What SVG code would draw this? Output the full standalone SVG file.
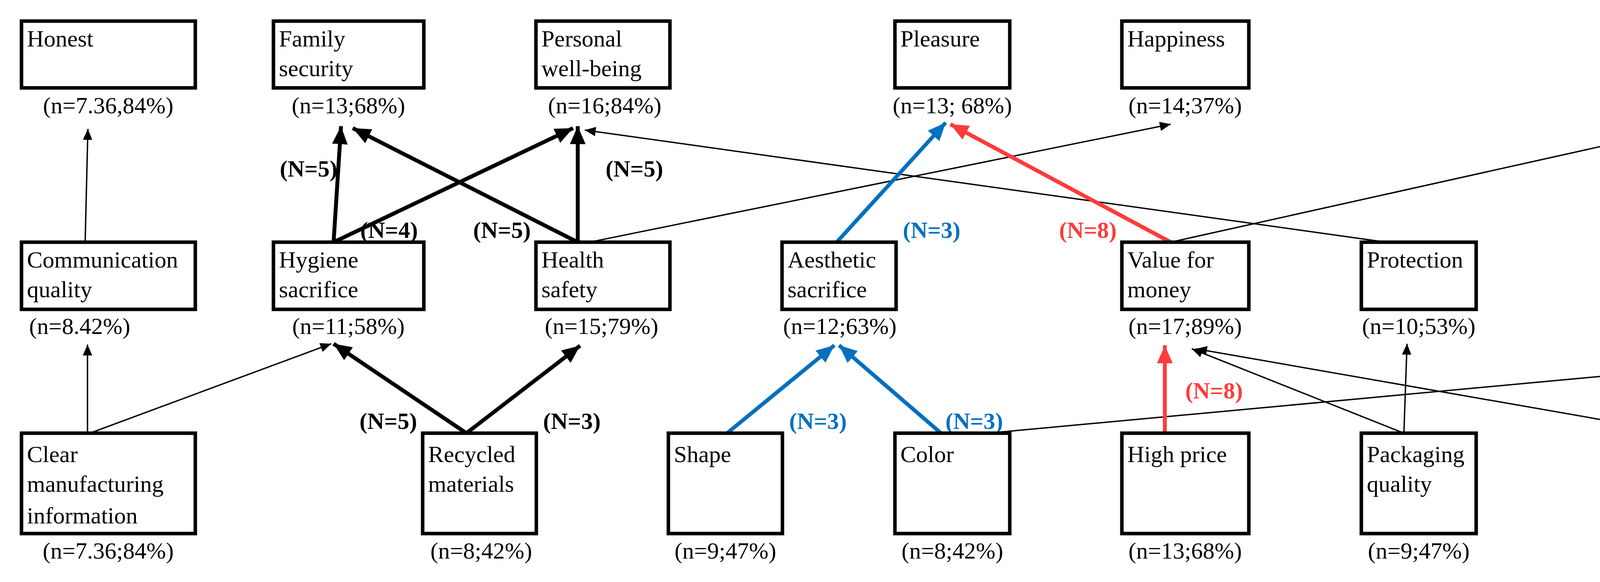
<svg xmlns="http://www.w3.org/2000/svg" width="5747" height="1490" viewBox="0 0 5747 1490">
<style>
rect.n{fill:#fff;stroke:#000;stroke-width:9}
text{font-family:"Liberation Serif","Times New Roman",serif;font-size:60px;fill:#000}
text.c{text-anchor:middle}
text.b{font-weight:bold;text-anchor:middle}
.thin{stroke:#000;stroke-width:3.5;fill:none;marker-end:url(#mt)}
.thk{stroke:#000;stroke-width:10;fill:none;marker-end:url(#mk)}
.blu{stroke:#0070C0;stroke-width:10;fill:none;marker-end:url(#mb)}
.red{stroke:#FF3B3B;stroke-width:10;fill:none;marker-end:url(#mr)}
.grn{stroke:#00B050;stroke-width:10;fill:none;marker-end:url(#mg)}
</style>
<defs>
<marker id="mt" markerUnits="userSpaceOnUse" markerWidth="30" markerHeight="24" refX="28" refY="12" orient="auto"><path d="M0,0 L28,12 L0,24 Z" fill="#000"/></marker>
<marker id="mk" markerUnits="userSpaceOnUse" markerWidth="48" markerHeight="40" refX="46" refY="20" orient="auto"><path d="M0,0 L46,20 L0,40 Z" fill="#000"/></marker>
<marker id="mb" markerUnits="userSpaceOnUse" markerWidth="48" markerHeight="40" refX="46" refY="20" orient="auto"><path d="M0,0 L46,20 L0,40 Z" fill="#0070C0"/></marker>
<marker id="mr" markerUnits="userSpaceOnUse" markerWidth="48" markerHeight="40" refX="46" refY="20" orient="auto"><path d="M0,0 L46,20 L0,40 Z" fill="#FF3B3B"/></marker>
<marker id="mg" markerUnits="userSpaceOnUse" markerWidth="48" markerHeight="40" refX="46" refY="20" orient="auto"><path d="M0,0 L46,20 L0,40 Z" fill="#00B050"/></marker>
</defs>
<rect width="5747" height="1490" fill="#fff"/>
<g id="connectors">
<line class="thin" x1="218" y1="620" x2="225" y2="330"/>
<line class="thin" x1="224" y1="1109" x2="224" y2="882"/>
<line class="thin" x1="230" y1="1109" x2="848" y2="880"/>
<line class="thin" x1="1509" y1="620" x2="2997" y2="318"/>
<line class="thin" x1="3548" y1="620" x2="1497" y2="333"/>
<line class="thin" x1="2997" y1="620" x2="4309" y2="328"/>
<line class="thin" x1="4307" y1="620" x2="4311" y2="330"/>
<line class="thin" x1="3594" y1="1109" x2="3602" y2="880"/>
<line class="thin" x1="3594" y1="1109" x2="3051" y2="893"/>
<line class="thin" x1="4297" y1="1109" x2="3062" y2="893"/>
<line class="thin" x1="4297" y1="1109" x2="4297" y2="882"/>
<line class="thin" x1="2530" y1="1109" x2="4912" y2="888"/>
<line class="thin" x1="4936" y1="1109" x2="4936" y2="882"/>
<line class="thk" x1="854" y1="620" x2="873" y2="323"/>
<line class="thk" x1="854" y1="620" x2="1467" y2="328"/>
<line class="thk" x1="1479" y1="620" x2="903" y2="328"/>
<line class="thk" x1="1479" y1="620" x2="1479" y2="323"/>
<line class="thk" x1="1194" y1="1109" x2="854" y2="880"/>
<line class="thk" x1="1194" y1="1109" x2="1485" y2="885"/>
<line class="blu" x1="2142" y1="620" x2="2421" y2="314"/>
<line class="blu" x1="1854" y1="1115" x2="2136" y2="884"/>
<line class="blu" x1="2409" y1="1109" x2="2148" y2="884"/>
<line class="red" x1="2997" y1="620" x2="2433" y2="318"/>
<line class="red" x1="2982" y1="1109" x2="2982" y2="884"/>
<line class="grn" x1="4926" y1="620" x2="4926" y2="333"/>
<line class="grn" x1="5557" y1="612" x2="4936" y2="333"/>
<line class="grn" x1="5557" y1="1109" x2="4949" y2="880"/>
<line class="grn" x1="5557" y1="1109" x2="5554" y2="885"/>
<text class="b" x="790" y="452">(N=5)</text>
<text class="b" x="996" y="609">(N=4)</text>
<text class="b" x="1285" y="609">(N=5)</text>
<text class="b" x="1624" y="452">(N=5)</text>
<text class="b" x="994" y="1098">(N=5)</text>
<text class="b" x="1464" y="1098">(N=3)</text>
<text class="b" x="2385" y="609" style="fill:#0070C0">(N=3)</text>
<text class="b" x="2094" y="1098" style="fill:#0070C0">(N=3)</text>
<text class="b" x="2494" y="1098" style="fill:#0070C0">(N=3)</text>
<text class="b" x="2785" y="609" style="fill:#FF3B3B">(N=8)</text>
<text class="b" x="3108" y="1020" style="fill:#FF3B3B">(N=8)</text>
<text class="b" x="4850" y="529" style="fill:#00B050">(N=3)</text>
<text class="b" x="5340" y="452" style="fill:#00B050">(N=3)</text>
<text class="b" x="5340" y="1020" style="fill:#00B050">(N=3)</text>
<text class="b" x="5636" y="1020" style="fill:#00B050">(N=3)</text>
</g>
<g id="honest"><rect class="n" x="55" y="54" width="445" height="171"/><text x="69" y="119">Honest</text><text class="c" x="277" y="290">(n=7.36,84%)</text></g>
<g id="family"><rect class="n" x="700" y="54" width="385" height="171"/><text x="714" y="119">Family</text><text x="714" y="195">security</text><text class="c" x="892" y="290">(n=13;68%)</text></g>
<g id="personal"><rect class="n" x="1372" y="54" width="343" height="171"/><text x="1386" y="119">Personal</text><text x="1386" y="195">well-being</text><text class="c" x="1548" y="290">(n=16;84%)</text></g>
<g id="pleasure"><rect class="n" x="2291" y="54" width="294" height="171"/><text x="2305" y="119">Pleasure</text><text class="c" x="2438" y="290">(n=13; 68%)</text></g>
<g id="happiness"><rect class="n" x="2872" y="54" width="325" height="171"/><text x="2886" y="119">Happiness</text><text class="c" x="3034" y="290">(n=14;37%)</text></g>
<g id="logical"><rect class="n" x="4180" y="54" width="293" height="171"/><text x="4194" y="119">Logical</text><text class="c" x="4326" y="290">(n=5;26%)</text></g>
<g id="responsible"><rect class="n" x="4760" y="54" width="379" height="171"/><text x="4774" y="119">Responsible</text><text class="c" x="4949" y="290">(n=10;53%)</text></g>
<g id="communication"><rect class="n" x="55" y="620" width="445" height="172"/><text x="69" y="685">Communication</text><text x="69" y="761">quality</text><text class="c" x="204" y="855">(n=8.42%)</text></g>
<g id="hygiene"><rect class="n" x="700" y="620" width="385" height="172"/><text x="714" y="685">Hygiene</text><text x="714" y="761">sacrifice</text><text class="c" x="892" y="855">(n=11;58%)</text></g>
<g id="health"><rect class="n" x="1372" y="620" width="343" height="172"/><text x="1386" y="685">Health</text><text x="1386" y="761">safety</text><text class="c" x="1540" y="855">(n=15;79%)</text></g>
<g id="aesthetic"><rect class="n" x="2002" y="620" width="292" height="172"/><text x="2016" y="685">Aesthetic</text><text x="2016" y="761">sacrifice</text><text class="c" x="2150" y="855">(n=12;63%)</text></g>
<g id="value"><rect class="n" x="2872" y="620" width="325" height="172"/><text x="2886" y="685">Value for</text><text x="2886" y="761">money</text><text class="c" x="3034" y="855">(n=17;89%)</text></g>
<g id="protection"><rect class="n" x="3485" y="620" width="294" height="172"/><text x="3499" y="685">Protection</text><text class="c" x="3632" y="855">(n=10;53%)</text></g>
<g id="trust"><rect class="n" x="4180" y="620" width="293" height="172"/><text x="4194" y="685">Trust</text><text class="c" x="4326" y="855">(n=5;26%)</text></g>
<g id="environment"><rect class="n" x="4760" y="620" width="379" height="172"/><text x="4774" y="685">Environment</text><text x="4774" y="761">conscious</text><text class="c" x="4949" y="855">(n=6;32%)</text></g>
<g id="waste"><rect class="n" x="5428" y="620" width="292" height="172"/><text x="5442" y="685">Waste</text><text class="c" x="5574" y="855">(n=5;26%)</text></g>
<g id="clear"><rect class="n" x="55" y="1109" width="445" height="257"/><text x="69" y="1183">Clear</text><text x="69" y="1259">manufacturing</text><text x="69" y="1340">information</text><text class="c" x="277" y="1430">(n=7.36;84%)</text></g>
<g id="recycled"><rect class="n" x="1082" y="1109" width="291" height="257"/><text x="1096" y="1183">Recycled</text><text x="1096" y="1259">materials</text><text class="c" x="1232" y="1430">(n=8;42%)</text></g>
<g id="shape"><rect class="n" x="1711" y="1109" width="292" height="257"/><text x="1725" y="1183">Shape</text><text class="c" x="1857" y="1430">(n=9;47%)</text></g>
<g id="color"><rect class="n" x="2291" y="1109" width="294" height="257"/><text x="2305" y="1183">Color</text><text class="c" x="2438" y="1430">(n=8;42%)</text></g>
<g id="highprice"><rect class="n" x="2872" y="1109" width="325" height="257"/><text x="2886" y="1183">High price</text><text class="c" x="3034" y="1430">(n=13;68%)</text></g>
<g id="packaging"><rect class="n" x="3485" y="1109" width="294" height="257"/><text x="3499" y="1183">Packaging</text><text x="3499" y="1259">quality</text><text class="c" x="3632" y="1430">(n=9;47%)</text></g>
<g id="eco"><rect class="n" x="4180" y="1109" width="293" height="257"/><text x="4194" y="1183">Eco-</text><text x="4194" y="1259">labelling</text><text class="c" x="4326" y="1430">(n=11;58%)</text></g>
<g id="recyclable"><rect class="n" x="4760" y="1109" width="379" height="257"/><text x="4774" y="1183">Recyclable</text><text x="4774" y="1259">materials</text><text class="c" x="4949" y="1430">(n=11;58%)</text></g>
<g id="reduced"><rect class="n" x="5428" y="1109" width="292" height="257"/><text x="5442" y="1183">Reduced</text><text x="5442" y="1259">packaging</text><text class="c" x="5574" y="1430">(n=6;32%)</text></g>
</svg>
